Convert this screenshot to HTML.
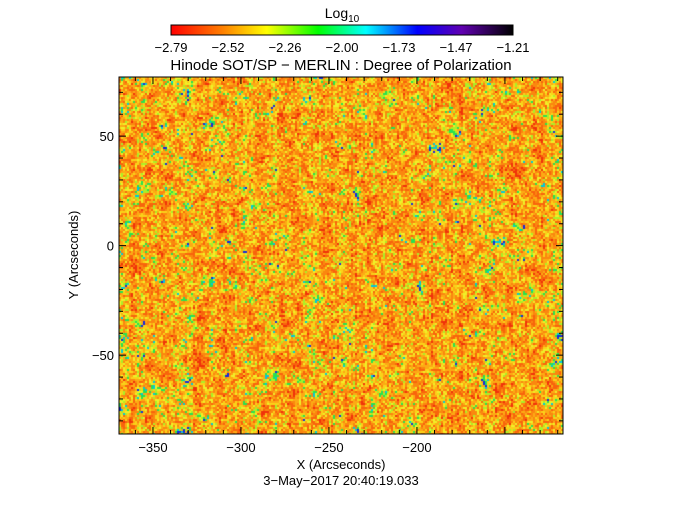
<!DOCTYPE html>
<html><head><meta charset="utf-8"><style>
body{margin:0;background:#fff;}
#wrap{position:relative;width:682px;height:512px;overflow:hidden;font-family:"Liberation Sans","DejaVu Sans",sans-serif;}
svg text{font-family:"Liberation Sans","DejaVu Sans",sans-serif;fill:#000;}
</style></head><body>
<div id="wrap">
<canvas id="hm" width="444" height="357" style="position:absolute;left:119px;top:77px;"></canvas>
<svg id="svg" width="682" height="512" style="position:absolute;left:0;top:0;">
<defs><linearGradient id="cb" x1="0" x2="1" y1="0" y2="0">
<stop offset="0" stop-color="#ff0000"/><stop offset="0.15" stop-color="#ff7f00"/><stop offset="0.28" stop-color="#ffff00"/><stop offset="0.43" stop-color="#00ff00"/><stop offset="0.57" stop-color="#00ffff"/><stop offset="0.72" stop-color="#0000ff"/><stop offset="0.85" stop-color="#6000b0"/><stop offset="1" stop-color="#000000"/></linearGradient></defs>
<text x="342" y="18" font-size="14" text-anchor="middle">Log<tspan font-size="10" dy="4">10</tspan></text>
<rect x="171" y="25" width="342" height="10" fill="url(#cb)" stroke="#000" stroke-width="1"/>
<g id="cbticks"></g>
<text x="341" y="70" font-size="15" text-anchor="middle">Hinode SOT/SP − MERLIN : Degree of Polarization</text>
<rect x="119" y="77" width="444" height="357" fill="none" stroke="#000" stroke-width="1"/>
<g id="axes"></g>
<text x="341" y="469" font-size="13" text-anchor="middle">X (Arcseconds)</text>
<text x="78" y="255" font-size="13" text-anchor="middle" transform="rotate(-90 78 255)">Y (Arcseconds)</text>
<text x="341" y="485" font-size="13" text-anchor="middle">3−May−2017 20:40:19.033</text>
</svg>
</div>
<script>
const cbLabels=["−2.79","−2.52","−2.26","−2.00","−1.73","−1.47","−1.21"];
const xTicks=[-350,-300,-250,-200];
const yTicks=[-50,0,50];
const xRange=[-369.3,-117.0];
const yRange=[-86.0,77.0];
const NS="http://www.w3.org/2000/svg";
const L=119,R=563,T=77,B=434;
const sx=v=>L+(v-xRange[0])/(xRange[1]-xRange[0])*(R-L);
const sy=v=>B-(v-yRange[0])/(yRange[1]-yRange[0])*(B-T);
function mk(tag,attrs,parent){const e=document.createElementNS(NS,tag);for(const k in attrs)e.setAttribute(k,attrs[k]);parent.appendChild(e);return e;}
const cbg=document.getElementById('cbticks');
cbLabels.forEach((s,i)=>{const x=171+i*(342/6);
const t=mk('text',{x:x,y:52,'font-size':13,'text-anchor':'middle'},cbg);t.textContent=s;


});
const ax=document.getElementById('axes');
for(let v=-360;v<=-120;v+=10){const x=sx(v);const maj=v%50===0;const len=maj?7:4;
mk('line',{x1:x,x2:x,y1:B,y2:B-len,stroke:'#000'},ax);mk('line',{x1:x,x2:x,y1:T,y2:T+len,stroke:'#000'},ax);}
xTicks.forEach(v=>{const t=mk('text',{x:sx(v),y:452,'font-size':13,'text-anchor':'middle'},ax);t.textContent='−'+Math.abs(v);

});
for(let v=-80;v<=70;v+=10){const y=sy(v);const maj=v%50===0;const len=maj?7:4;
mk('line',{x1:L,x2:L+len,y1:y,y2:y,stroke:'#000'},ax);mk('line',{x1:R,x2:R-len,y1:y,y2:y,stroke:'#000'},ax);}
yTicks.forEach(v=>{const t=mk('text',{x:114,y:sy(v)+5,'font-size':13,'text-anchor':'end'},ax);t.textContent=(v<0?'−':'')+Math.abs(v);

});
// heatmap texture
const c=document.getElementById('hm').getContext('2d');
let s=12345;const rnd=()=>{s=(s*1103515245+12345)&0x7fffffff;return s/0x7fffffff;};
const pal=[[240,50,10],[248,100,12],[250,135,15],[252,170,20],[250,210,25],[240,240,40],[170,240,40],[40,225,80],[0,200,220],[20,40,220]];
const W=222,H=179;
const fld=new Float32Array(W*H);
for(let i=0;i<W*H;i++)fld[i]=rnd();
const sm=new Float32Array(W*H);
for(let y=0;y<H;y++)for(let x=0;x<W;x++){let a=0,n=0;for(let dy=-2;dy<=2;dy++)for(let dx=-2;dx<=2;dx++){const xx=x+dx,yy=y+dy;if(xx>=0&&yy>=0&&xx<W&&yy<H){a+=fld[yy*W+xx];n++;}}sm[y*W+x]=a/n;}
const colBias=[];for(let x=0;x<W;x++)colBias.push((rnd()-0.5));
const img=c.createImageData(444,357);
for(let y=0;y<H;y++)for(let x=0;x<W;x++){
let r=rnd()*0.6+(sm[y*W+x]-0.5)*1.8+colBias[x]*0.15+0.25;let idx;
if(r<0.15)idx=0;else if(r<0.33)idx=1;else if(r<0.48)idx=2;else if(r<0.62)idx=3;else if(r<0.73)idx=4;else if(r<0.82)idx=5;else if(r<0.9)idx=6;else if(r<0.98)idx=7;else if(r<1.04)idx=8;else idx=9;
const p=pal[idx];
for(let dy=0;dy<2&&2*y+dy<357;dy++)for(let dx=0;dx<2;dx++){const o=((2*y+dy)*444+2*x+dx)*4;img.data[o]=p[0];img.data[o+1]=p[1];img.data[o+2]=p[2];img.data[o+3]=255;}}
c.putImageData(img,0,0);
</script>
</body></html>
